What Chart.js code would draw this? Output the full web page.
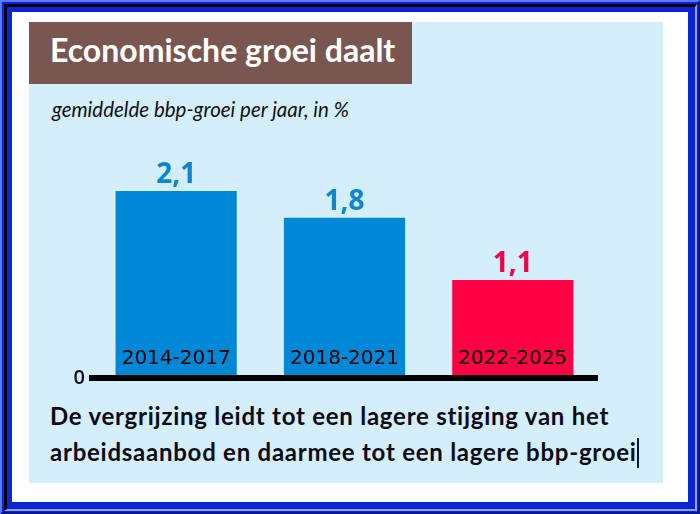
<!DOCTYPE html>
<html>
<head>
<meta charset="utf-8">
<script src="https://cdn.jsdelivr.net/npm/chart.js@4/dist/chart.umd.min.js"></script>
<style>
  html, body { margin: 0; padding: 0; width: 700px; height: 514px; overflow: hidden; background: #0a24d8; }
  .abs { position: absolute; box-sizing: border-box; }
  #outer { left: 0; top: 0; width: 700px; height: 514px; background: #0a24d8;
           border-top: 2px solid #5d78ff; border-left: 2px solid #5d78ff;
           border-right: 2px solid #0a1890; border-bottom: 2px solid #0a1890; }
  #ridge { left: 4px; top: 4px; width: 693px; height: 507px;
           border-top: 3px solid #000; border-left: 3px solid #000;
           border-right: 2px solid #8fa2ff; border-bottom: 2px solid #8fa2ff; }
  #white { left: 12px; top: 12px; width: 676px; height: 490px; background: #ffffff; }
  #panel { left: 29px; top: 22px; width: 634px; height: 461px; background: #d5eefb; }
  #titlebox { left: 29px; top: 22px; width: 383px; height: 62px; background: #7a5651; }
  #title { left: 50px; top: 30px; font-family: Lato, sans-serif; font-weight: 700; font-size: 32px;
           color: #ffffff; white-space: nowrap; line-height: normal; }
  #subtitle { left: 52px; top: 97px; font-family: Lato, sans-serif; font-style: italic; font-size: 20.5px;
              color: #111; white-space: nowrap; line-height: normal; }
  .cap { left: 50px; font-family: Lato, sans-serif; font-weight: 700; font-size: 24px; letter-spacing: 0.75px;
         color: #0b0b14; white-space: nowrap; line-height: 36px; }
  .cursor { display: inline-block; width: 2px; height: 30px; background: #101040; vertical-align: -7px; margin-left: 0px; }
  #chart { position: absolute; left: 0; top: 0; }
</style>
</head>
<body>
<div id="outer" class="abs"></div>
<div id="ridge" class="abs"></div>
<div id="white" class="abs"></div>
<div id="panel" class="abs"></div>
<div id="titlebox" class="abs"></div>
<div id="title" class="abs">Economische groei daalt</div>
<div id="subtitle" class="abs">gemiddelde bbp-groei per jaar, in %</div>
<div id="cap1" class="abs cap" style="top:398px">De vergrijzing leidt tot een lagere stijging van het</div>
<div id="cap2" class="abs cap" style="top:434px">arbeidsaanbod en daarmee tot een lagere bbp-groei<span class="cursor"></span></div>
<canvas id="chart" width="700" height="514"></canvas>
<script>
// ---- data ----
const categories = ['2014-2017', '2018-2021', '2022-2025'];
const growth = [2.1, 1.8, 1.1];
const yTickLabels = ['0'];
// ---- styles ----
const barColors = ['#0088d6', '#0088d6', '#ff0044'];
const valueColors = ['#0a86d2', '#0a86d2', '#f5004a'];

const fmt = v => v.toFixed(1).replace('.', ',');

const barLabels = {
  id: 'barLabels',
  afterDatasetsDraw(chart) {
    const ctx = chart.ctx;
    const meta = chart.getDatasetMeta(0);
    const xs = chart.scales.x;
    const bottom = chart.chartArea.bottom;
    ctx.save();
    ctx.textAlign = 'center';
    // values above bars
    ctx.font = '700 28px "Open Sans", sans-serif';
    ctx.textBaseline = 'alphabetic';
    meta.data.forEach((bar, i) => {
      ctx.fillStyle = valueColors[i];
      ctx.fillText(fmt(growth[i]), bar.x, bar.y - 8);
    });
    // category labels inside bars, near the base
    ctx.font = '20px "DejaVu Sans", sans-serif';
    ctx.fillStyle = '#000000';
    ctx.textBaseline = 'middle';
    categories.forEach((c, i) => {
      ctx.fillText(xs.getLabelForValue(i), xs.getPixelForTick(i), bottom - 19);
    });
    ctx.restore();
  }
};

new Chart(document.getElementById('chart'), {
  type: 'bar',
  data: {
    labels: categories,
    datasets: [{
      data: growth,
      backgroundColor: barColors,
      borderWidth: 0,
      categoryPercentage: 1,
      barPercentage: 0.72
    }]
  },
  options: {
    responsive: false,
    animation: false,
    devicePixelRatio: 1,
    layout: { padding: { left: 62, right: 103, top: 111, bottom: 0 } },
    plugins: { legend: { display: false }, tooltip: { enabled: false }, title: { display: false } },
    scales: {
      x: {
        grid: { color: 'transparent', drawTicks: false },
        border: { display: true, color: '#000000', width: 6, z: 1 },
        ticks: { display: false },
        afterFit: s => { s.height = 136; }
      },
      y: {
        min: 0, max: 3,
        grid: { display: false, drawTicks: false },
        border: { display: false },
        ticks: {
          stepSize: 1, padding: 7, color: '#0b0b30',
          font: { family: 'Open Sans', size: 20, weight: '600' },
          callback: (v) => (v === 0 ? yTickLabels[0] : '')
        },
        afterFit: s => { s.width = 30; }
      }
    }
  },
  plugins: [barLabels]
});
</script>
</body>
</html>
